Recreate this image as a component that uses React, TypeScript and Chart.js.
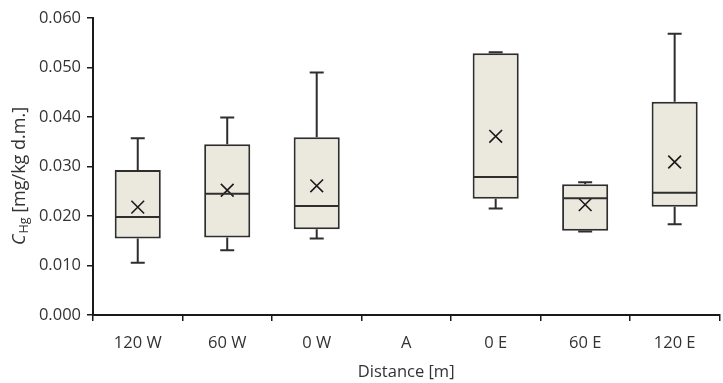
import { useEffect, useRef } from 'react';
import { Chart, registerables } from 'chart.js';

Chart.register(...registerables);

const categories = ['120 W', '60 W', '0 W', 'A', '0 E', '60 E', '120 E'];
const whiskerMin = [0.01055, 0.0131, 0.01545, null, 0.0215, 0.01687, 0.01834];
const quartile1 = [0.01545, 0.01566, 0.01733, null, 0.02347, 0.0170, 0.02186];
const medians = [0.0198, 0.0245, 0.0220, null, 0.0279, 0.0236, 0.0247];
const quartile3 = [0.0293, 0.0345, 0.0359, null, 0.0529, 0.0264, 0.0431];
const whiskerMax = [0.0357, 0.0399, 0.0490, null, 0.0531, 0.0268, 0.0568];
const means = [0.0218, 0.0252, 0.0261, null, 0.0361, 0.0223, 0.0309];
const yMin = 0;
const yMax = 0.06;
const yStep = 0.01;

const FONT = '"Open Sans", "Noto Sans", sans-serif';
const TEXT = '#333333';
const LINE = '#2e2e2e';

const boxExtras = {
  id: 'boxExtras',
  beforeDatasetsDraw(chart: any) {
    const { ctx, scales } = chart;
    const x = scales.x;
    const y = scales.y;
    ctx.save();
    ctx.strokeStyle = LINE;
    ctx.lineWidth = 2;
    categories.forEach((_, i) => {
      if (medians[i] == null) return;
      const cx = x.getPixelForValue(i);
      const capHalf = 7;
      const yMaxP = y.getPixelForValue(whiskerMax[i]);
      const yQ3 = y.getPixelForValue(quartile3[i]);
      const yQ1 = y.getPixelForValue(quartile1[i]);
      const yMinP = y.getPixelForValue(whiskerMin[i]);
      ctx.beginPath();
      ctx.moveTo(cx, yQ3);
      ctx.lineTo(cx, yMaxP);
      ctx.moveTo(cx - capHalf, yMaxP);
      ctx.lineTo(cx + capHalf, yMaxP);
      ctx.moveTo(cx, yQ1);
      ctx.lineTo(cx, yMinP);
      ctx.moveTo(cx - capHalf, yMinP);
      ctx.lineTo(cx + capHalf, yMinP);
      ctx.stroke();
    });
    ctx.restore();
  },
  afterDatasetsDraw(chart: any) {
    const { ctx, scales } = chart;
    const x = scales.x;
    const y = scales.y;
    const meta = chart.getDatasetMeta(0);
    ctx.save();
    ctx.strokeStyle = LINE;
    ctx.lineWidth = 2;
    categories.forEach((_, i) => {
      if (medians[i] == null) return;
      const el = meta.data[i];
      const cx = x.getPixelForValue(i);
      const w = el.width;
      const yMed = y.getPixelForValue(medians[i]);
      ctx.beginPath();
      ctx.moveTo(cx - w / 2 + 1, yMed);
      ctx.lineTo(cx + w / 2 - 1, yMed);
      ctx.stroke();
    });
    ctx.restore();
  },
  afterDraw(chart: any) {
    const { ctx } = chart;
    ctx.save();
    ctx.translate(19.5, 176);
    ctx.rotate(-Math.PI / 2);
    ctx.fillStyle = TEXT;
    ctx.textBaseline = 'middle';
    ctx.textAlign = 'left';
    const italic = `italic 18px ${FONT}`;
    const main = `18px ${FONT}`;
    const sub = `12.5px ${FONT}`;
    const rest = ' [mg/kg d.m.]';
    ctx.font = italic;
    const wC = ctx.measureText('C').width;
    ctx.font = sub;
    const wS = ctx.measureText('Hg').width;
    ctx.font = main;
    const wR = ctx.measureText(rest).width;
    const total = wC + 1 + wS + wR;
    let px = -total / 2;
    ctx.font = italic;
    ctx.fillText('C', px, 0);
    px += wC + 1;
    ctx.font = sub;
    ctx.fillText('Hg', px, 4.5);
    px += wS;
    ctx.font = main;
    ctx.fillText(rest, px, 0);
    ctx.restore();
  },
};

export default function App() {
  const ref = useRef<HTMLCanvasElement | null>(null);

  useEffect(() => {
    if (!ref.current) return;
    const boxData = categories.map((_, i) =>
      quartile1[i] == null ? null : [quartile1[i], quartile3[i]]
    );
    const chart = new Chart(ref.current, {
      type: 'bar',
      data: {
        labels: categories,
        datasets: [
          {
            type: 'bar',
            data: boxData as any,
            backgroundColor: '#ebe9de',
            borderColor: LINE,
            borderWidth: 2,
            borderSkipped: false,
            barPercentage: 0.515,
            categoryPercentage: 1,
            order: 2,
          } as any,
          {
            type: 'line',
            data: means as any,
            showLine: false,
            pointStyle: 'crossRot',
            pointRadius: 9,
            pointBorderWidth: 1.6,
            pointBorderColor: '#1a1a1a',
            pointBackgroundColor: '#1a1a1a',
            order: 1,
          } as any,
        ],
      },
      options: {
        animation: false,
        responsive: true,
        maintainAspectRatio: false,
        layout: { padding: { top: 18, right: 2, left: 0, bottom: 0 } },
        plugins: {
          legend: { display: false },
          tooltip: { enabled: false },
        },
        scales: {
          x: {
            type: 'category',
            offset: true,
            grid: {
              display: true,
              offset: true,
              drawOnChartArea: false,
              drawTicks: true,
              tickLength: 6,
              color: '#1a1a1a',
              lineWidth: 1.5,
            },
            border: { display: true, color: '#1a1a1a', width: 2 },
            ticks: {
              color: TEXT,
              font: { family: FONT, size: 16.5 },
              padding: 12,
              maxRotation: 0,
            },
            title: {
              display: true,
              text: 'Distance [m]',
              color: TEXT,
              font: { family: FONT, size: 16.5 },
              padding: { top: 0, bottom: 1 },
            },
            afterFit(scale: any) {
              scale.height = 68;
            },
          },
          y: {
            min: yMin,
            max: yMax,
            grid: {
              display: true,
              drawOnChartArea: false,
              drawTicks: true,
              tickLength: 6,
              color: '#1a1a1a',
              lineWidth: 1.5,
            },
            border: { display: true, color: '#1a1a1a', width: 2 },
            ticks: {
              stepSize: yStep,
              color: TEXT,
              font: { family: FONT, size: 16.5 },
              padding: 6,
              callback: (v: any) => Number(v).toFixed(3),
            },
            afterFit(scale: any) {
              scale.width = 93;
            },
          },
        },
      },
      plugins: [boxExtras],
    });
    return () => chart.destroy();
  }, []);

  return (
    <div style={{ position: 'fixed', left: 0, top: 0, width: 723, height: 383, overflow: 'hidden', background: '#fff' }}>
      <div style={{ position: 'relative', width: 730, height: 383 }}>
        <canvas ref={ref} />
      </div>
    </div>
  );
}
